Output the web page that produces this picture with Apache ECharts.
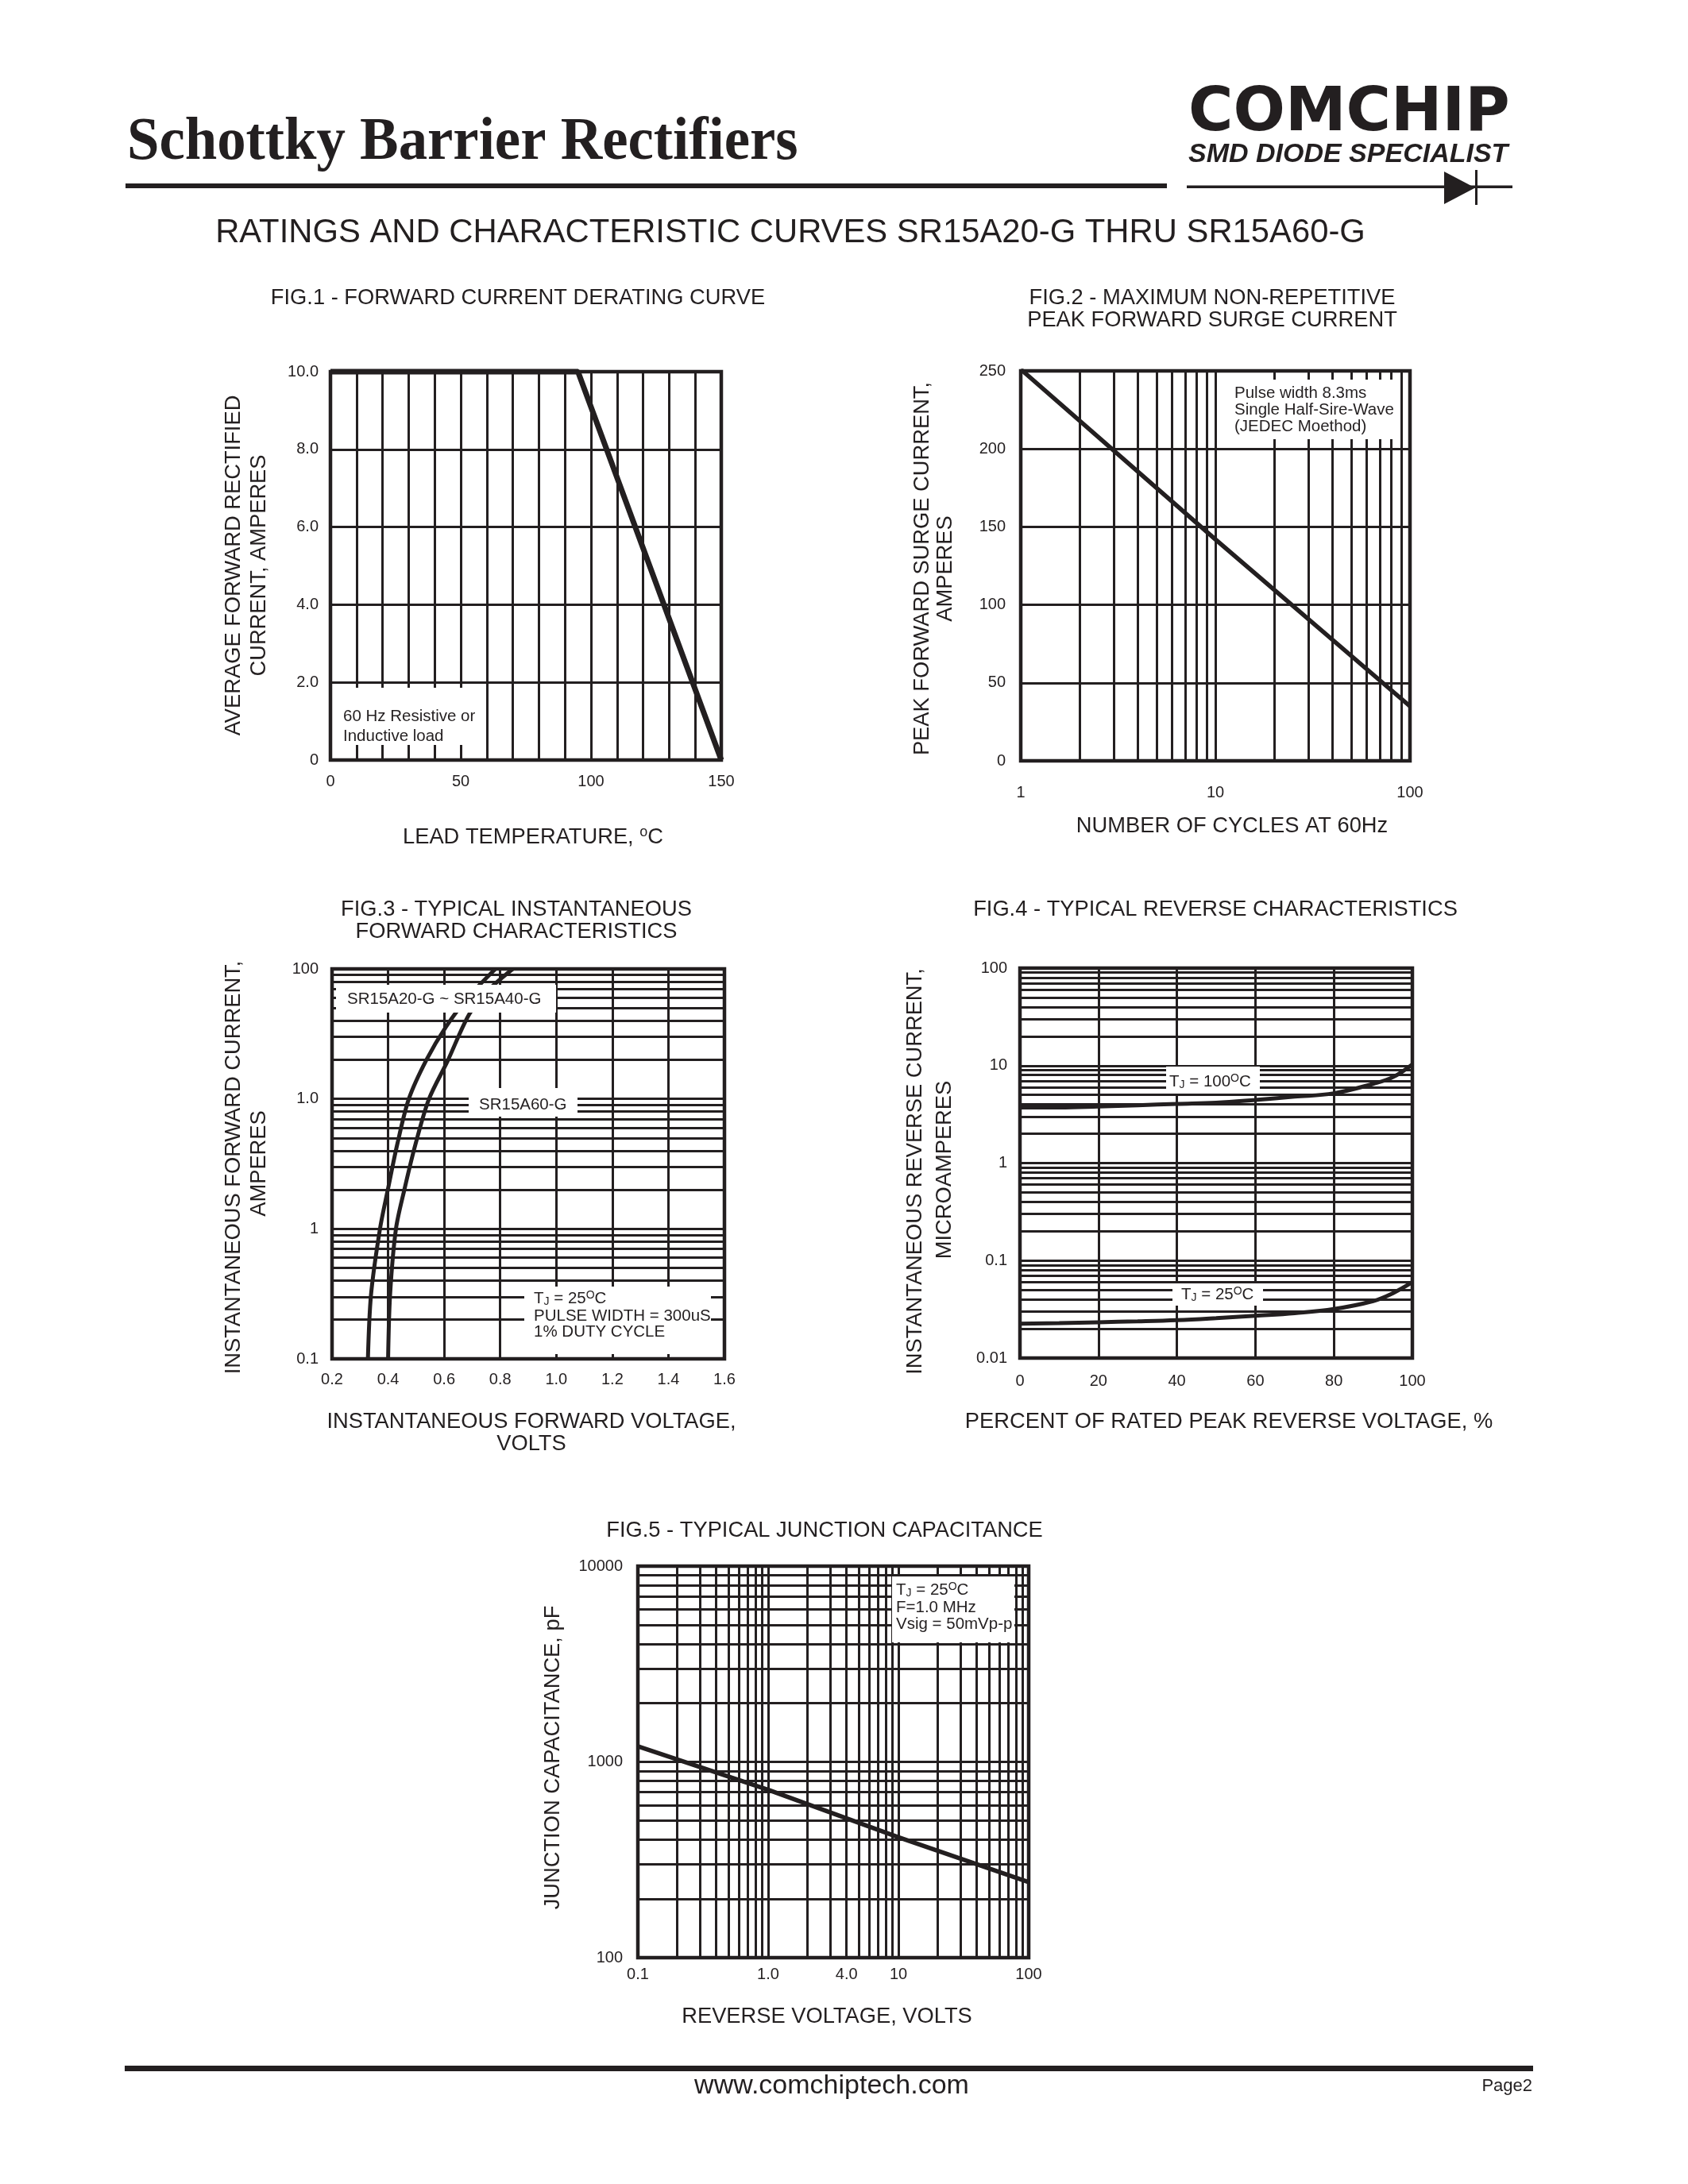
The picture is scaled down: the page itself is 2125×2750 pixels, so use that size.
<!DOCTYPE html>
<html><head><meta charset="utf-8">
<script src="https://cdn.jsdelivr.net/npm/echarts@6/dist/echarts.min.js"></script>
<style>html,body{margin:0;padding:0;background:#fff}#c{width:2125px;height:2750px}</style>
</head><body><div id="c"></div>
<script>
// ---------------- data ----------------
// Fig.1 forward current derating
const fig1Temp = [0, 95, 150];
const fig1Current = [10, 10, 0];
const fig1XTickValues = [0, 50, 100, 150];
const fig1XTickLabels = ['0', '50', '100', '150'];
const fig1YTickValues = [0, 2, 4, 6, 8, 10];
const fig1YTickLabels = ['0', '2.0', '4.0', '6.0', '8.0', '10.0'];

// Fig.2 peak forward surge current
const fig2Cycles = [1, 10, 100];
const fig2Surge = [251, 142, 35];
const fig2XTickValues = [1, 10, 100];
const fig2XTickLabels = ['1', '10', '100'];
const fig2MinorX = [2, 3, 4, 5, 6, 7, 8, 9, 20, 30, 40, 50, 60, 70, 80, 90];

// Fig.3 forward characteristics
const fig3VoltA = [0.328, 0.339, 0.371, 0.399, 0.433, 0.474, 0.537, 0.607, 0.687, 0.783];
const fig3AmpA  = [0.1, 0.31, 1.0, 2.0, 4.5, 10, 20, 36, 61, 100];
const fig3VoltB = [0.400, 0.407, 0.428, 0.458, 0.498, 0.546, 0.611, 0.690, 0.762, 0.845];
const fig3AmpB  = [0.1, 0.31, 1.0, 2.0, 4.5, 10, 19.3, 45, 70, 100];
const fig3YTickValues = [0.1, 1, 10, 100];
const fig3YTickLabels = ['0.1', '1', '1.0', '100'];
const fig3MinorY = [0.2, 0.3, 0.4, 0.5, 0.6, 0.7, 0.8, 0.9, 2, 3, 4, 5, 6, 7, 8, 9, 20, 30, 40, 50, 60, 70, 80, 90];

// Fig.4 reverse characteristics
const fig4Percent = [0, 10, 20, 30, 40, 50, 60, 70, 80, 90, 95, 100];
const fig4Tj100 = [3.72, 3.72, 3.8, 3.92, 4.05, 4.17, 4.45, 4.8, 5.2, 6.5, 7.6, 10.3];
const fig4Tj25  = [0.0225, 0.0228, 0.0233, 0.0238, 0.0245, 0.0257, 0.0272, 0.0289, 0.0318, 0.0384, 0.0462, 0.060];
const fig4YTickValues = [0.01, 0.1, 1, 10, 100];
const fig4YTickLabels = ['0.01', '0.1', '1', '10', '100'];
const fig4MinorY = [0.02, 0.03, 0.04, 0.05, 0.06, 0.07, 0.08, 0.09, 0.2, 0.3, 0.4, 0.5, 0.6, 0.7, 0.8, 0.9, 2, 3, 4, 5, 6, 7, 8, 9, 20, 30, 40, 50, 60, 70, 80, 90];

// Fig.5 junction capacitance
const fig5Volt = [0.1, 1, 10, 100];
const fig5Cap = [1200, 720, 412, 243];
const fig5XTickValues = [0.1, 1, 4, 10, 100];
const fig5XTickLabels = ['0.1', '1.0', '4.0', '10', '100'];
const fig5YTickValues = [100, 1000, 10000];
const fig5YTickLabels = ['100', '1000', '10000'];
const fig5MinorX = [0.2, 0.3, 0.4, 0.5, 0.6, 0.7, 0.8, 0.9, 2, 3, 4, 5, 6, 7, 8, 9, 20, 30, 40, 50, 60, 70, 80, 90];
const fig5MinorY = [200, 300, 400, 500, 600, 700, 800, 900, 2000, 3000, 4000, 5000, 6000, 7000, 8000, 9000];

// ---------------- helpers ----------------
const INK = '#231f20';
const SANS = '"Liberation Sans", Arial, Helvetica, sans-serif';
const zip = (a, b) => a.map((v, i) => [v, b[i]]);
function labelFor(v, vals, labels) {
  for (let i = 0; i < vals.length; i++) {
    if (v === vals[i] || (v > 0 && vals[i] > 0 && Math.abs(Math.log10(v) - Math.log10(vals[i])) < 1e-6)) return labels[i];
  }
  return '';
}
function axLabel(margin, vals, labels, extra) {
  return Object.assign({
    color: INK, fontSize: 20, fontFamily: SANS, margin: margin,
    showMinLabel: true, showMaxLabel: true,
    formatter: v => labelFor(v, vals, labels)
  }, extra || {});
}
const split = { show: true, lineStyle: { color: INK, width: 3 } };
function minor(items) {
  return {
    silent: true, symbol: ['none', 'none'], label: { show: false },
    lineStyle: { color: INK, width: 3, type: 'solid' },
    emphasis: { disabled: true }, animation: false, z: 1,
    data: items
  };
}
function curve(xi, data, width, extra) {
  return Object.assign({
    type: 'line', xAxisIndex: xi, yAxisIndex: xi, data: data,
    symbol: 'none', showSymbol: false, silent: true,
    lineStyle: { color: INK, width: width }, emphasis: { disabled: true }, z: 3
  }, extra || {});
}

// graphic helpers
function T(x, y, text, size, o) {
  o = o || {};
  const style = {
    text: text, fill: INK, fontSize: size, fontFamily: o.family || SANS,
    fontWeight: o.weight || 'normal', fontStyle: o.fstyle || 'normal',
    align: o.align || 'center', verticalAlign: 'middle'
  };
  if (o.rich) style.rich = o.rich;
  return { type: 'text', x: x, y: y, z: 100, silent: true,
    rotation: o.rot ? Math.PI / 2 : 0, scaleX: o.scaleX || 1, style: style };
}
function R(x, y, w, h, fill) {
  return { type: 'rect', z: 90, silent: true, shape: { x: x, y: y, width: w, height: h },
    style: { fill: fill || '#ffffff' } };
}
const richTJ = {
  n: { fontSize: 20.5, fontFamily: SANS, lineHeight: 22 },
  b: { fontSize: 14, fontFamily: SANS, lineHeight: 4, verticalAlign: 'bottom' },
  p: { fontSize: 14, fontFamily: SANS, lineHeight: 4, verticalAlign: 'top' }
};
const richDeg = {
  n: { fontSize: 27.3, fontFamily: SANS, lineHeight: 30 },
  p: { fontSize: 18, fontFamily: SANS, lineHeight: 6, verticalAlign: 'top' }
};
const A = 20.5; // annotation font size
const F = 27.3; // titles / axis names

const graphics = [
  // header
  T(160, 180, 'Schottky Barrier Rectifiers', 77, { align: 'left', weight: 'bold', scaleX: 0.945, family: '"Liberation Serif", "Times New Roman", serif' }),
  R(158, 231, 1311, 6, INK),
  T(1496, 144, 'COMCHIP', 77, { align: 'left', weight: 'bold', family: '"DejaVu Sans", sans-serif' }),
  T(1496, 195, 'SMD DIODE SPECIALIST', 34, { align: 'left', weight: 'bold', fstyle: 'italic' }),
  R(1494, 233.5, 410, 3.5, INK),
  { type: 'polygon', z: 100, silent: true, shape: { points: [[1818, 216], [1818, 257], [1857, 236.5]] }, style: { fill: INK } },
  R(1857, 214, 3, 44, INK),
  T(995, 293, 'RATINGS AND CHARACTERISTIC CURVES SR15A20-G THRU SR15A60-G', 41.8),

  // figure titles
  T(652, 375, 'FIG.1 - FORWARD CURRENT DERATING CURVE', F),
  T(1526, 375, 'FIG.2 - MAXIMUM NON-REPETITIVE', F),
  T(1526, 403, 'PEAK FORWARD SURGE CURRENT', F),
  T(650, 1145, 'FIG.3 - TYPICAL INSTANTANEOUS', F),
  T(650, 1173, 'FORWARD CHARACTERISTICS', F),
  T(1530, 1145, 'FIG.4 - TYPICAL REVERSE CHARACTERISTICS', F),
  T(1038, 1927, 'FIG.5 - TYPICAL JUNCTION CAPACITANCE', F),

  // axis names
  T(294.5, 712, 'AVERAGE FORWARD RECTIFIED', F, { rot: true }),
  T(326, 712, 'CURRENT, AMPERES', F, { rot: true }),
  T(671, 1054, '{n|LEAD TEMPERATURE, }{p|o}{n|C}', F, { rich: richDeg }),
  T(1161, 716, 'PEAK FORWARD SURGE CURRENT,', F, { rot: true }),
  T(1190.5, 716, 'AMPERES', F, { rot: true }),
  T(1551, 1040, 'NUMBER OF CYCLES AT 60Hz', F),
  T(294.5, 1470, 'INSTANTANEOUS FORWARD CURRENT,', F, { rot: true }),
  T(326, 1465, 'AMPERES', F, { rot: true }),
  T(669, 1790, 'INSTANTANEOUS FORWARD VOLTAGE,', F),
  T(669, 1818, 'VOLTS', F),
  T(1152, 1475, 'INSTANTANEOUS REVERSE CURRENT,', F, { rot: true }),
  T(1189, 1473, 'MICROAMPERES', F, { rot: true }),
  T(1547, 1790, 'PERCENT OF RATED PEAK REVERSE VOLTAGE, %', F),
  T(696, 2213, 'JUNCTION CAPACITANCE, pF', F, { rot: true }),
  T(1041, 2539, 'REVERSE VOLTAGE, VOLTS', F),

  // Fig.1 note
  R(421, 866, 184, 72),
  T(432, 902, '60 Hz Resistive or', A, { align: 'left' }),
  T(432, 927, 'Inductive load', A, { align: 'left' }),
  // Fig.2 note
  R(1549, 478, 208, 75),
  T(1554, 495, 'Pulse width 8.3ms', A, { align: 'left' }),
  T(1554, 516.5, 'Single Half-Sire-Wave', A, { align: 'left' }),
  T(1554, 537, '(JEDEC Moethod)', A, { align: 'left' }),
  // Fig.3 notes
  R(423, 1240, 277, 35),
  T(437, 1258, 'SR15A20-G ~ SR15A40-G', A, { align: 'left' }),
  R(590, 1370, 137, 36),
  T(603, 1391.5, 'SR15A60-G', A, { align: 'left' }),
  R(660, 1620, 235, 85),
  T(672, 1635, '{n|T}{b|J}{n| = 25}{p|O}{n|C}', A, { align: 'left', rich: richTJ }),
  T(672, 1657, 'PULSE WIDTH = 300uS', A, { align: 'left' }),
  T(672, 1677, '1% DUTY CYCLE', A, { align: 'left' }),
  // Fig.4 notes
  R(1468, 1343, 118, 34),
  T(1472, 1362, '{n|T}{b|J}{n| = 100}{p|O}{n|C}', A, { align: 'left', rich: richTJ }),
  R(1476, 1616, 114, 28),
  T(1487, 1630, '{n|T}{b|J}{n| = 25}{p|O}{n|C}', A, { align: 'left', rich: richTJ }),
  // Fig.5 note
  R(1123, 1985, 154, 83),
  T(1128, 2002, '{n|T}{b|J}{n| = 25}{p|O}{n|C}', A, { align: 'left', rich: richTJ }),
  T(1128, 2024, 'F=1.0 MHz', A, { align: 'left' }),
  T(1128, 2045, 'Vsig = 50mVp-p', A, { align: 'left' }),

  // footer
  R(157, 2601, 1773, 7, INK),
  T(1047, 2627, 'www.comchiptech.com', 34),
  T(1929, 2627, 'Page2', 22, { align: 'right' })
];

const gridBase = { show: true, borderColor: INK, borderWidth: 4.5, backgroundColor: 'transparent', containLabel: false };

const option = {
  animation: false,
  backgroundColor: '#ffffff',
  grid: [
    Object.assign({ left: 416, top: 468, width: 492, height: 489 }, gridBase),
    Object.assign({ left: 1285, top: 467, width: 490, height: 491 }, gridBase),
    Object.assign({ left: 418, top: 1220, width: 494, height: 491 }, gridBase),
    Object.assign({ left: 1284, top: 1219, width: 494, height: 491 }, gridBase),
    Object.assign({ left: 803, top: 1972, width: 492, height: 493 }, gridBase)
  ],
  xAxis: [
    { gridIndex: 0, type: 'value', min: 0, max: 150, interval: 10, axisLine: { show: false }, axisTick: { show: false }, splitLine: split,
      axisLabel: axLabel(17, fig1XTickValues, fig1XTickLabels, { formatter: v => { const i = fig1XTickValues.indexOf(v); return i >= 0 ? fig1XTickLabels[i] : ''; } }) },
    { gridIndex: 1, type: 'log', logBase: 10, min: 1, max: 100, axisLine: { show: false }, axisTick: { show: false }, splitLine: split,
      axisLabel: axLabel(30, fig2XTickValues, fig2XTickLabels) },
    { gridIndex: 2, type: 'value', min: 0.2, max: 1.6, interval: 0.2, axisLine: { show: false }, axisTick: { show: false }, splitLine: split,
      axisLabel: { color: INK, fontSize: 20, fontFamily: SANS, margin: 16, showMinLabel: true, showMaxLabel: true, formatter: v => v.toFixed(1) } },
    { gridIndex: 3, type: 'value', min: 0, max: 100, interval: 20, axisLine: { show: false }, axisTick: { show: false }, splitLine: split,
      axisLabel: { color: INK, fontSize: 20, fontFamily: SANS, margin: 19, showMinLabel: true, showMaxLabel: true } },
    { gridIndex: 4, type: 'log', logBase: 10, min: 0.1, max: 100, axisLine: { show: false }, axisTick: { show: false }, splitLine: split,
      axisLabel: axLabel(11, fig5XTickValues, fig5XTickLabels, { customValues: fig5XTickValues }) }
  ],
  yAxis: [
    { gridIndex: 0, type: 'value', min: 0, max: 10, interval: 2, axisLine: { show: false }, axisTick: { show: false }, splitLine: split,
      axisLabel: axLabel(15, fig1YTickValues, fig1YTickLabels, { formatter: v => { const i = fig1YTickValues.indexOf(v); return i >= 0 ? fig1YTickLabels[i] : ''; } }) },
    { gridIndex: 1, type: 'value', min: 0, max: 250, interval: 50, axisLine: { show: false }, axisTick: { show: false }, splitLine: split,
      axisLabel: { color: INK, fontSize: 20, fontFamily: SANS, margin: 19 } },
    { gridIndex: 2, type: 'log', logBase: 10, min: 0.1, max: 100, axisLine: { show: false }, axisTick: { show: false }, splitLine: split,
      axisLabel: axLabel(17, fig3YTickValues, fig3YTickLabels, { padding: [0, 0, 10, 0] }) },
    { gridIndex: 3, type: 'log', logBase: 10, min: 0.01, max: 100, axisLine: { show: false }, axisTick: { show: false }, splitLine: split,
      axisLabel: axLabel(16, fig4YTickValues, fig4YTickLabels, { padding: [0, 0, 6, 0] }) },
    { gridIndex: 4, type: 'log', logBase: 10, min: 100, max: 10000, axisLine: { show: false }, axisTick: { show: false }, splitLine: split,
      axisLabel: axLabel(19, fig5YTickValues, fig5YTickLabels) }
  ],
  series: [
    curve(0, zip(fig1Temp, fig1Current), 7, { clip: false }),
    curve(1, zip(fig2Cycles, fig2Surge), 5.5, { markLine: minor(fig2MinorX.map(v => ({ xAxis: v }))) }),
    curve(2, zip(fig3VoltA, fig3AmpA), 5, { smooth: 0.3, markLine: minor(fig3MinorY.map(v => ({ yAxis: v }))) }),
    curve(2, zip(fig3VoltB, fig3AmpB), 5, { smooth: 0.3 }),
    curve(3, zip(fig4Percent, fig4Tj100), 5, { smooth: 0.4 }),
    curve(3, zip(fig4Percent, fig4Tj25), 5, { smooth: 0.4, markLine: minor(fig4MinorY.map(v => ({ yAxis: v }))) }),
    curve(4, zip(fig5Volt, fig5Cap), 5.5, { markLine: minor(fig5MinorX.map(v => ({ xAxis: v })).concat(fig5MinorY.map(v => ({ yAxis: v })))) })
  ],
  graphic: { elements: graphics }
};

const chart = echarts.init(document.getElementById('c'), null, { renderer: 'canvas' });
chart.setOption(option);
</script></body></html>
